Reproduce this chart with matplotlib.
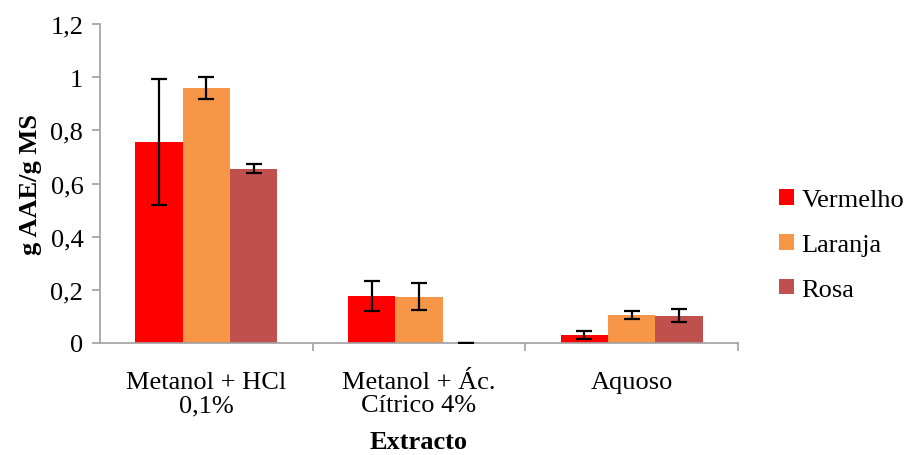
import numpy as np
import matplotlib.pyplot as plt
from matplotlib.patches import Patch

plt.rcParams['font.family'] = ['Liberation Serif', 'DejaVu Serif']

extractos = ["Metanol + HCl\n0,1%", "Metanol + Ác.\nCítrico 4%", "Aquoso"]
series = ["Vermelho", "Laranja", "Rosa"]
cores = ["#FF0000", "#F79646", "#C0504D"]

vermelho = [0.756, 0.177, 0.030]
laranja = [0.959, 0.174, 0.105]
rosa = [0.655, 0.0, 0.103]

err_vermelho = [0.237, 0.055, 0.015]
err_laranja = [0.040, 0.051, 0.015]
err_rosa = [0.017, 0.0, 0.025]

valores = [vermelho, laranja, rosa]
erros = [err_vermelho, err_laranja, err_rosa]

fig = plt.figure(figsize=(9.07, 4.56), dpi=100)
ax = fig.add_axes([100 / 907, 1 - 344 / 456, 638 / 907, 319 / 456])

x = np.arange(len(extractos))
w = 0.223
for i, (v, e, c) in enumerate(zip(valores, erros, cores)):
    ax.bar(x + (i - 1) * w, v, width=w, color=c, edgecolor="none", zorder=2)
    ax.errorbar(x + (i - 1) * w, v, yerr=e, fmt="none", ecolor="black",
                elinewidth=1.6, capsize=6, capthick=1.6, zorder=3)

ax.set_xlim(-0.5, 2.5)
ax.set_ylim(0, 1.2)
ax.set_yticks(np.arange(0, 1.21, 0.2))
ax.set_yticklabels(["0", "0,2", "0,4", "0,6", "0,8", "1", "1,2"])
ax.set_xticks(x)
ax.set_xticklabels(extractos, linespacing=1.1)
ax.set_xticks([0.5, 1.5, 2.5], minor=True)

ax.tick_params(axis="x", which="major", length=0, labelsize=19, pad=20)
ax.tick_params(axis="x", which="minor", length=6, color="#A0A0A0", width=1.2)
ax.tick_params(axis="y", length=6, color="#A0A0A0", width=1.2, labelsize=19, pad=6)

for s in ["top", "right"]:
    ax.spines[s].set_visible(False)
for s in ["left", "bottom"]:
    ax.spines[s].set_color("#A0A0A0")
    ax.spines[s].set_linewidth(1.2)

ax.set_ylabel("g AAE/g MS", fontsize=19, fontweight="bold", labelpad=6)
ax.set_xlabel("Extracto", fontsize=19, fontweight="bold", labelpad=10)

handles = [Patch(facecolor=c, edgecolor="none") for c in cores]
fig.legend(handles, series, loc="center left",
           bbox_to_anchor=(779 / 907, 1 - 246 / 456),
           frameon=False, fontsize=19, handlelength=0.55, handleheight=0.55,
           handletextpad=0.3, labelspacing=0.85, borderpad=0,
           borderaxespad=0)

fig.savefig("out.png", dpi=100)
